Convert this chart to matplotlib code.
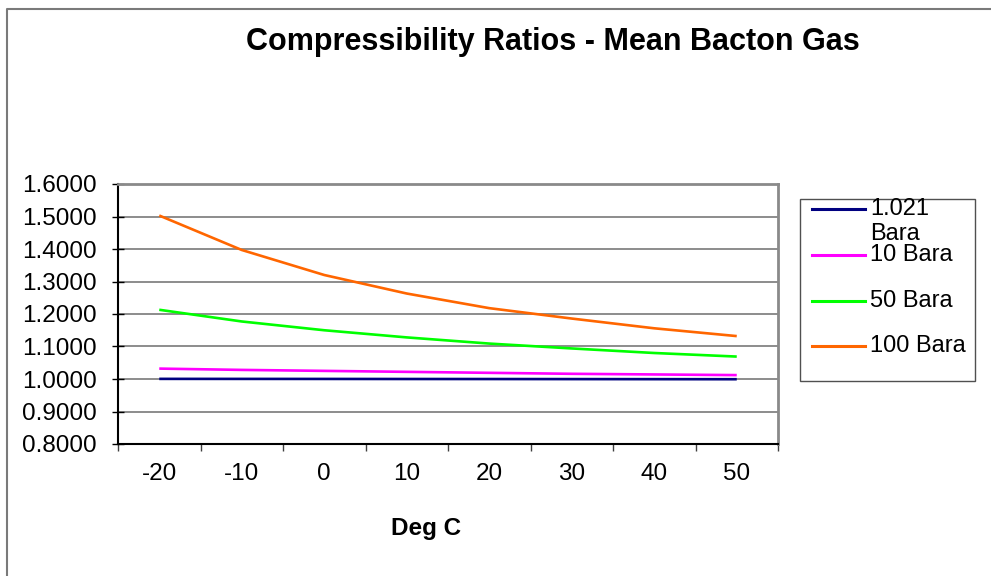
import matplotlib
matplotlib.use('Agg')
import matplotlib.pyplot as plt
from matplotlib.lines import Line2D
from matplotlib.patches import Rectangle

plt.rcParams['font.family'] = ['Liberation Sans', 'DejaVu Sans']

# compressibility ratio against temperature, one series per pressure
temps = [-20, -10, 0, 10, 20, 30, 40, 50]
series_names = ['1.021\nBara', '10 Bara', '50 Bara', '100 Bara']
z_1bar = [1.0004, 1.0003, 1.0002, 1.0000, 0.9999, 0.9997, 0.9995, 0.9993]
z_10bar = [1.032, 1.028, 1.025, 1.022, 1.019, 1.016, 1.014, 1.012]
z_50bar = [1.213, 1.177, 1.150, 1.128, 1.109, 1.094, 1.080, 1.069]
z_100bar = [1.503, 1.397, 1.320, 1.263, 1.218, 1.186, 1.156, 1.132]
y_ticks = [0.8, 0.9, 1.0, 1.1, 1.2, 1.3, 1.4, 1.5, 1.6]

colours = ['#000080', '#FF00FF', '#00FF00', '#FF6600']

W, H = 991, 576


def px(x, y):
    # pixel position (from top-left) -> figure fraction
    return x / W, 1 - y / H


fig = plt.figure(figsize=(W / 100, H / 100), dpi=100)
ax = fig.add_axes([118 / W, 1 - 444 / H, 660 / W, 260 / H])

pos = list(range(len(temps)))
for vals, c in zip([z_1bar, z_10bar, z_50bar, z_100bar], colours):
    ax.plot(pos, vals, color=c, lw=1.9, solid_capstyle='butt', zorder=3)

ax.set_xlim(-0.5, len(temps) - 0.5)
ax.set_ylim(0.8, 1.6)
ax.set_yticks(y_ticks)
ax.set_yticklabels(['%.4f' % v for v in y_ticks])
ax.yaxis.grid(True, color='#6e6e6e', lw=1.1)
ax.set_axisbelow(True)

# category labels in the middle, tick marks on the boundaries
ax.set_xticks([p - 0.5 for p in pos] + [len(temps) - 0.5])
ax.set_xticklabels([])
ax.set_xticks(pos, minor=True)
ax.set_xticklabels([str(t) for t in temps], minor=True)
ax.tick_params(axis='x', which='major', direction='out', length=5, width=1, color='#404040')
ax.tick_params(axis='x', which='minor', length=0, pad=14, labelsize=17.5)
ax.tick_params(axis='y', direction='inout', length=9, width=1, pad=11, labelsize=17.5)

for s in ['left', 'bottom']:
    ax.spines[s].set_color('black')
    ax.spines[s].set_linewidth(1.5)
for s in ['top', 'right']:
    ax.spines[s].set_color('#8a8a8a')
    ax.spines[s].set_linewidth(2)

fig.text(*px(553, 42), 'Compressibility Ratios - Mean Bacton Gas',
         ha='center', va='center', fontsize=22, fontweight='bold')
fig.text(*px(426, 528), 'Deg C', ha='center', va='center', fontsize=17.5, fontweight='bold')

# legend box
x0, y0 = px(800, 381)
x1, y1 = px(975, 199)
fig.add_artist(Rectangle((x0, y0), x1 - x0, y1 - y0, transform=fig.transFigure,
                         fill=False, edgecolor='#505050', lw=1))
rows = [209, 255, 301, 346]
for name, c, ry in zip(series_names, colours, rows):
    fig.add_artist(Line2D([812 / W, 865 / W], [1 - ry / H] * 2, color=c, lw=2.2,
                          transform=fig.transFigure))
    for i, part in enumerate(name.split('\n')):
        fig.text(*px(870, ry + i * 25), part, ha='left', va='center', fontsize=17)

# outer chart frame (runs off the right and bottom edges)
fig.add_artist(Line2D([7 / W, 7 / W, 1.1], [-0.1, 1 - 9 / H, 1 - 9 / H], color='#7a7a7a',
                      lw=1.5, transform=fig.transFigure))

fig.savefig('out.png', dpi=100)
